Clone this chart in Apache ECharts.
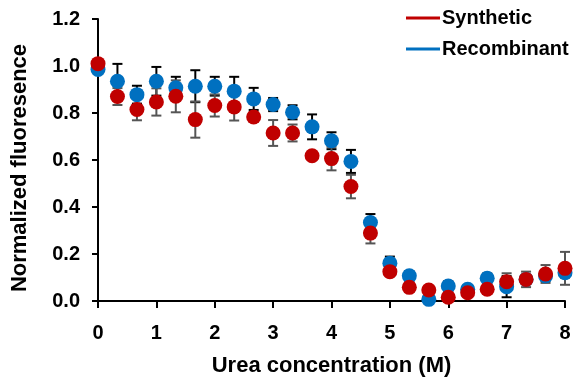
<!DOCTYPE html>
<html><head><meta charset="utf-8">
<script src="https://cdn.jsdelivr.net/npm/echarts@6/dist/echarts.min.js"></script>
<style>html,body{margin:0;padding:0;background:#fff}#c{width:582px;height:377px}</style>
</head><body><div id="c"></div>
<script>
var urea = [0, 0.333, 0.667, 1, 1.333, 1.667, 2, 2.333, 2.667, 3, 3.333, 3.667, 4, 4.333, 4.667, 5, 5.333, 5.667, 6, 6.333, 6.667, 7, 7.333, 7.667, 8];
var synthetic = [1.01, 0.87, 0.815, 0.847, 0.871, 0.772, 0.832, 0.826, 0.783, 0.715, 0.715, 0.618, 0.606, 0.487, 0.289, 0.125, 0.058, 0.047, 0.016, 0.035, 0.05, 0.082, 0.092, 0.115, 0.139];
var syntheticErr = [0.01, 0.036, 0.046, 0.058, 0.068, 0.077, 0.047, 0.058, 0.02, 0.055, 0.036, 0.012, 0.05, 0.05, 0.044, 0.02, 0.02, 0.015, 0.015, 0.015, 0.02, 0.036, 0.033, 0.038, 0.07];
var recombinant = [0.985, 0.935, 0.878, 0.935, 0.907, 0.914, 0.914, 0.893, 0.86, 0.836, 0.803, 0.741, 0.682, 0.594, 0.334, 0.161, 0.107, 0.007, 0.064, 0.05, 0.097, 0.061, 0.092, 0.107, 0.12];
var recombinantErr = [0.01, 0.074, 0.038, 0.061, 0.047, 0.068, 0.04, 0.061, 0.047, 0.028, 0.03, 0.053, 0.036, 0.049, 0.036, 0.028, 0.02, 0.015, 0.02, 0.015, 0.02, 0.045, 0.02, 0.02, 0.02];
var yTicks = ['0.0', '0.2', '0.4', '0.6', '0.8', '1.0', '1.2'];
var xTitle = 'Urea concentration (M)';
var yTitle = 'Normalized fluoresence';

var RED = '#C00000', BLUE = '#0070C0';
function pts(ys) { return urea.map(function (x, i) { return [x, ys[i]]; }); }
function errData(ys, es) { return urea.map(function (x, i) { return [x, ys[i], es[i]]; }); }
function errRender(color) {
  return function (params, api) {
    var x = api.value(0), y = api.value(1), e = api.value(2);
    var top = api.coord([x, y + e]), bot = api.coord([x, y - e]);
    var hw = 5;
    var st = { stroke: color, lineWidth: 2 };
    return { type: 'group', children: [
      { type: 'line', shape: { x1: top[0], y1: top[1], x2: bot[0], y2: bot[1] }, style: st },
      { type: 'line', shape: { x1: top[0] - hw, y1: top[1], x2: top[0] + hw, y2: top[1] }, style: st },
      { type: 'line', shape: { x1: bot[0] - hw, y1: bot[1], x2: bot[0] + hw, y2: bot[1] }, style: st }
    ]};
  };
}
var font = 'Liberation Sans, Arial, Helvetica, sans-serif';
var chart = echarts.init(document.getElementById('c'), null, { renderer: 'canvas' });
chart.setOption({
  animation: false,
  backgroundColor: '#fff',
  grid: { left: 98, right: 17, top: 19, bottom: 76, containLabel: false, outerBoundsMode: 'none' },
  legend: {
    orient: 'vertical', left: 406, top: 8, padding: 0, itemWidth: 34, itemHeight: 3, itemGap: 11,
    textStyle: { fontFamily: font, fontWeight: 'bold', fontSize: 20, color: '#000', padding: [0, 0, 0, -3] },
    data: [{ name: 'Synthetic', icon: 'rect' }, { name: 'Recombinant', icon: 'rect' }]
  },
  graphic: [{
    type: 'text', x: 20, y: 168, rotation: Math.PI / 2, z: 10,
    style: { text: yTitle, fontFamily: font, fontWeight: 'bold', fontSize: 22, fill: '#000',
      textAlign: 'center', textVerticalAlign: 'middle', verticalAlign: 'middle' }
  }],
  xAxis: {
    type: 'value', min: 0, max: 8, interval: 1,
    name: xTitle, nameLocation: 'middle', nameGap: 54,
    nameTextStyle: { fontFamily: font, fontWeight: 'bold', fontSize: 22, color: '#000' },
    axisLine: { lineStyle: { color: '#000', width: 2 } },
    axisTick: { lineStyle: { color: '#000', width: 2 }, length: 7 },
    axisLabel: { fontFamily: font, fontWeight: 'bold', fontSize: 20, color: '#000', margin: 22 },
    splitLine: { show: false }
  },
  yAxis: {
    type: 'value', min: 0, max: 1.2, interval: 0.2,
    axisLine: { show: true, lineStyle: { color: '#000', width: 2 } },
    axisTick: { show: true, lineStyle: { color: '#000', width: 2 }, length: 6 },
    axisLabel: { fontFamily: font, fontWeight: 'bold', fontSize: 20, color: '#000', margin: 18,
      formatter: function (v) { return yTicks[Math.round(v / 0.2)]; } },
    splitLine: { show: false }
  },
  series: [
    { name: 'RecErr', type: 'custom', data: errData(recombinant, recombinantErr), renderItem: errRender('#000'), z: 1, silent: true },
    { name: 'SynErr', type: 'custom', data: errData(synthetic, syntheticErr), renderItem: errRender('#555'), z: 1, silent: true },
    { name: 'Recombinant', type: 'scatter', data: pts(recombinant), symbolSize: 15, itemStyle: { color: BLUE, opacity: 1 }, z: 2 },
    { name: 'Synthetic', type: 'scatter', data: pts(synthetic), symbolSize: 15, itemStyle: { color: RED, opacity: 1 }, z: 3 }
  ]
});
</script></body></html>
